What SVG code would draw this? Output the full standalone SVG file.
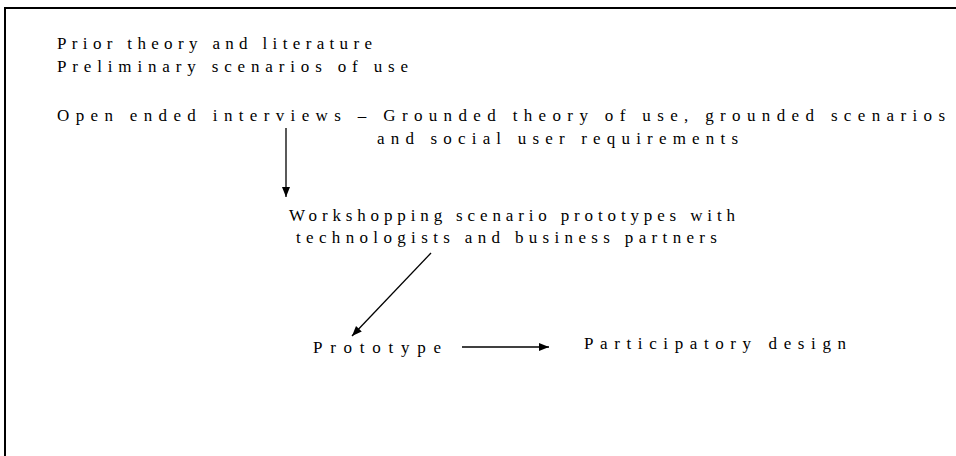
<svg xmlns="http://www.w3.org/2000/svg" width="956" height="456" viewBox="0 0 956 456">
  <style>
    .lbl { font-family: "Liberation Serif", "Times New Roman", serif; font-size: 17px; fill: #000; }
    .conn { stroke: #000; stroke-width: 1.3; fill: none; }
    .frame { stroke: #000; stroke-width: 2; fill: none; }
  </style>
  <defs>
    <marker id="arrow" viewBox="0 0 10 10" refX="10" refY="5" markerWidth="10" markerHeight="10" markerUnits="userSpaceOnUse" orient="auto">
      <path d="M0,1 L10,5 L0,9 Z" fill="#000"/>
    </marker>
  </defs>

  <rect width="956" height="456" fill="#fff"/>
  <!-- page frame: top and left rules -->
  <path class="frame" d="M5,456 L5,8 L956,8"/>

  <g id="prior">
    <text class="lbl" x="57" y="49" textLength="315" lengthAdjust="spacing">Prior theory and literature</text>
    <text class="lbl" x="57" y="72" textLength="351" lengthAdjust="spacing">Preliminary scenarios of use</text>
  </g>

  <g id="interviews">
    <text class="lbl" x="57" y="121" textLength="888" lengthAdjust="spacing">Open ended interviews – Grounded theory of use, grounded scenarios</text>
    <text class="lbl" x="377" y="144" textLength="361" lengthAdjust="spacing">and social user requirements</text>
  </g>

  <g id="workshopping">
    <text class="lbl" x="289" y="221" textLength="446" lengthAdjust="spacing">Workshopping scenario prototypes with</text>
    <text class="lbl" x="296" y="243" textLength="421" lengthAdjust="spacing">technologists and business partners</text>
  </g>

  <g id="prototype">
    <text class="lbl" x="313" y="353" textLength="128" lengthAdjust="spacing">Prototype</text>
  </g>

  <g id="participatory">
    <text class="lbl" x="584" y="349" textLength="262" lengthAdjust="spacing">Participatory design</text>
  </g>

  <g id="connectors">
    <line class="conn" x1="286" y1="128" x2="286" y2="197" marker-end="url(#arrow)"/>
    <line class="conn" x1="431" y1="253" x2="352" y2="336" marker-end="url(#arrow)"/>
    <line class="conn" x1="462" y1="347" x2="549" y2="347" marker-end="url(#arrow)"/>
  </g>
</svg>
